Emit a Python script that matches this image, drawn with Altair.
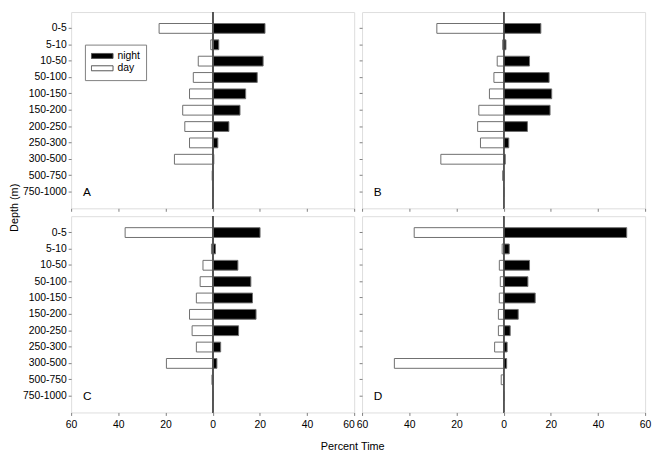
import altair as alt
import pandas as pd

depths = ["0-5", "5-10", "10-50", "50-100", "100-150", "150-200",
          "200-250", "250-300", "300-500", "500-750", "750-1000"]
periods = ["night", "day"]
x_ticks = [-60, -40, -20, 0, 20, 40, 60]

night_A = [22.2, 2.6, 21.4, 18.9, 14.0, 11.6, 6.9, 2.2, 0.5, 0.1, 0.0]
day_A = [22.7, 0.8, 6.1, 8.2, 9.8, 12.7, 11.8, 9.8, 16.2, 0.2, 0.0]
night_B = [15.8, 1.0, 11.0, 19.3, 20.4, 19.7, 10.1, 2.2, 0.7, 0.0, 0.0]
day_B = [28.3, 0.4, 2.7, 4.1, 6.0, 10.5, 11.0, 9.8, 26.6, 0.4, 0.0]
night_C = [20.1, 1.2, 10.7, 16.2, 16.9, 18.4, 11.0, 3.4, 1.8, 0.0, 0.0]
day_C = [37.1, 0.5, 4.1, 5.3, 6.9, 9.8, 8.7, 6.9, 19.6, 0.3, 0.0]
night_D = [52.2, 2.4, 11.0, 10.3, 13.4, 6.2, 2.8, 1.5, 1.3, 0.0, 0.0]
day_D = [37.9, 0.6, 1.8, 1.4, 1.8, 2.2, 2.2, 3.8, 46.3, 1.0, 0.0]

FONT = "Liberation Sans"
GRAY = "#7f7f7f"
W, H = 287, 199
GAP = 8


def panel(letter, night, day, left_labels, bottom_labels, legend):
    rows = []
    for d, n, dd in zip(depths, night, day):
        rows.append({"depth": d, "period": "night", "value": n})
        rows.append({"depth": d, "period": "day", "value": -dd})
    df = pd.DataFrame(rows)

    xscale = alt.Scale(domain=[-60, 60], nice=False, zero=False)
    yscale = alt.Scale(domain=depths, paddingInner=0.4, paddingOuter=0.7)

    xaxis_kw = dict(values=x_ticks, labelExpr="abs(datum.value)", labels=bottom_labels,
                    grid=False, domain=False, ticks=True, tickSize=3, tickColor=GRAY,
                    labelFontSize=10.5, labelFont=FONT, labelColor="black", labelPadding=4,
                    labelFlush=False, labelOverlap=False,
                    titleFontSize=11, titleFont=FONT, titleFontWeight="normal",
                    titleColor="black", titlePadding=11)
    if letter == "C":
        xaxis_kw["titleX"] = (2 * W + GAP) / 2 - 6
        xaxis_kw["labelAlign"] = {"condition": {"test": "datum.value == 60", "value": "right"},
                                  "value": "center"}
    yaxis_kw = dict(labels=left_labels, grid=False, domain=False, ticks=True, tickSize=3,
                    tickColor=GRAY, labelFontSize=10.5, labelFont=FONT, labelColor="black",
                    labelPadding=2, titleFontSize=11, titleFont=FONT,
                    titleFontWeight="normal", titleColor="black", titlePadding=3)
    if letter == "A":
        yaxis_kw["titleY"] = (2 * H + GAP) / 2 - 5

    xenc = dict(scale=xscale, axis=alt.Axis(**xaxis_kw))
    xenc["title"] = "Percent Time" if letter == "C" else ""
    yenc = dict(sort=depths, scale=yscale, axis=alt.Axis(**yaxis_kw))
    yenc["title"] = "Depth (m)" if letter == "A" else ""

    fenc = dict(scale=alt.Scale(domain=periods, range=["#000000", "#ffffff"]))
    if legend:
        fenc["legend"] = alt.Legend(orient="none", legendX=14, legendY=33, title=None,
                                    symbolType="M-1,-0.23H1V0.23H-1Z", symbolSize=484,
                                    symbolStrokeColor="#555555", symbolStrokeWidth=1,
                                    strokeColor=GRAY, fillColor="white", padding=6,
                                    labelFontSize=10.5, labelFont=FONT, labelColor="black",
                                    labelOffset=4, clipHeight=11, rowPadding=1.5,
                                    cornerRadius=0)
    else:
        fenc["legend"] = None

    bars = alt.Chart(df).mark_bar(stroke="#6e6e6e", strokeWidth=1).encode(
        x=alt.X("value:Q", **xenc),
        x2=alt.X2(datum=0),
        y=alt.Y("depth:N", **yenc),
        fill=alt.Fill("period:N", **fenc),
    )
    zero = alt.Chart(df).mark_rule(color="#555555", strokeWidth=1).encode(
        x=alt.X(datum=0, type="quantitative")
    )
    lab = pd.DataFrame({"depth": ["750-1000"], "value": [-55], "label": [letter]})
    text = alt.Chart(lab).mark_text(align="left", baseline="middle", fontSize=12,
                                    font=FONT, color="black").encode(
        x=alt.X("value:Q"),
        y=alt.Y("depth:N", sort=depths),
        text="label:N",
    )
    return alt.layer(bars, zero, text).properties(width=W, height=H)


pA = panel("A", night_A, day_A, True, False, True)
pB = panel("B", night_B, day_B, False, False, False)
pC = panel("C", night_C, day_C, True, True, False)
pD = panel("D", night_D, day_D, False, True, False)

chart = alt.concat(pA, pB, pC, pD, columns=2, spacing=GAP, bounds="flush").resolve_legend(
    fill="independent"
).resolve_scale(x="independent", y="independent").configure_view(
    stroke=GRAY, strokeWidth=1
).properties(
    padding={"left": 0, "top": 0, "right": 1, "bottom": 0}
).configure(font=FONT)

chart.save("out.html", embed_options={"renderer": "svg", "actions": False})
